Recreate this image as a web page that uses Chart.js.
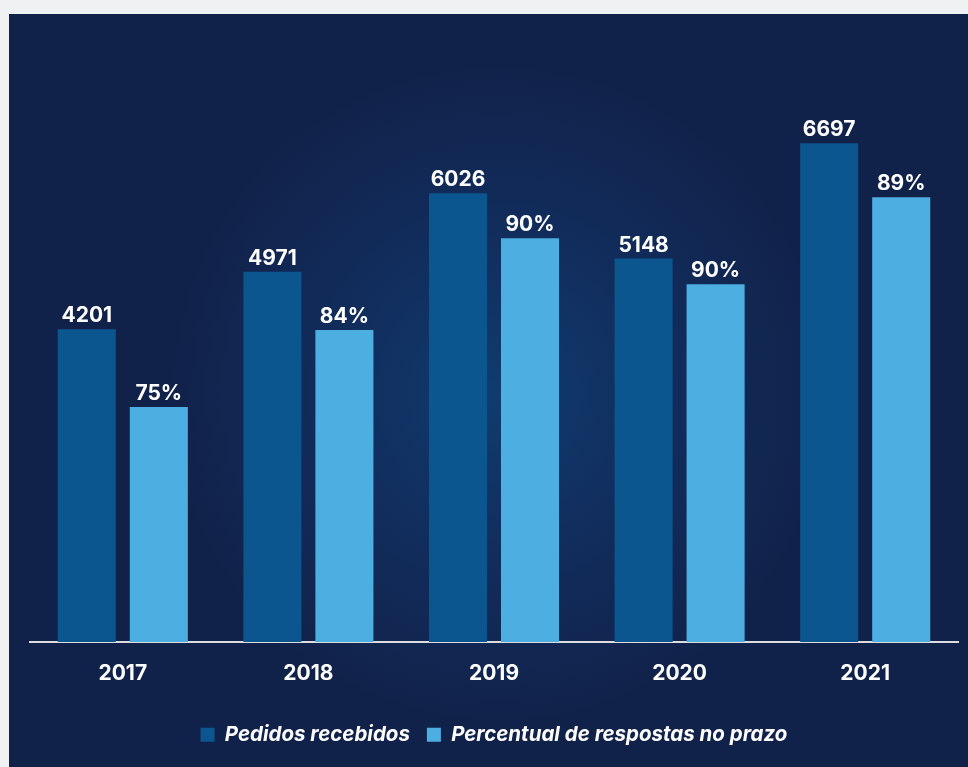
<!DOCTYPE html>
<html lang="pt-BR">
<head>
<meta charset="utf-8">
<title>Pedidos recebidos</title>
<script src="https://cdn.jsdelivr.net/npm/chart.js@4"></script>
<style>
  html, body {
    margin: 0;
    padding: 0;
    background: #f0f1f3;
  }
  #painel {
    position: absolute;
    left: 9px;
    top: 14px;
    width: 959px;
    height: 753px;
    background: radial-gradient(circle at 490px 380px, #0f3c6f 0px, #112e5e 150px, #11224a 330px, #11224a 100%);
  }
  #painel canvas {
    display: block;
  }
</style>
</head>
<body>
<div id="painel">
  <canvas id="grafico" width="959" height="753"></canvas>
</div>
<script>
// dados
const anos = ["2017", "2018", "2019", "2020", "2021"];
const pedidosRecebidos = [4201, 4971, 6026, 5148, 6697];
// altura das barras claras = respostas no prazo (estimado da figura)
const respostasNoPrazo = [3154, 4188, 5422, 4805, 5972];
const percentualNoPrazo = [75, 84, 90, 90, 89];

const corEscura = "#0b568f";
const corClara = "#4daee2";
const fonte = "Inter, 'Open Sans', sans-serif";

// rótulos em cima das barras
const rotulosBarras = {
  id: "rotulosBarras",
  afterDatasetsDraw(chart) {
    const { ctx } = chart;
    ctx.save();
    ctx.fillStyle = "#ffffff";
    ctx.font = "700 21px " + fonte;
    ctx.textAlign = "center";
    ctx.textBaseline = "alphabetic";
    chart.data.datasets.forEach((ds, i) => {
      const meta = chart.getDatasetMeta(i);
      meta.data.forEach((bar, j) => {
        const texto =
          i === 0 ? String(pedidosRecebidos[j]) : percentualNoPrazo[j] + "%";
        ctx.fillText(texto, bar.x, bar.y - 7);
      });
    });
    ctx.restore();
  },
};

new Chart(document.getElementById("grafico"), {
  type: "bar",
  data: {
    labels: anos,
    datasets: [
      {
        label: "Pedidos recebidos",
        data: pedidosRecebidos,
        backgroundColor: corEscura,
        categoryPercentage: 0.776,
        barPercentage: 0.806,
      },
      {
        label: "Percentual de respostas no prazo",
        data: respostasNoPrazo,
        backgroundColor: corClara,
        categoryPercentage: 0.776,
        barPercentage: 0.806,
      },
    ],
  },
  options: {
    responsive: false,
    animation: false,
    layout: {
      padding: { left: 21, right: 10, top: 62, bottom: 12 },
    },
    scales: {
      y: {
        display: false,
        min: 0,
        max: 7600,
      },
      x: {
        grid: { display: false },
        border: { display: true, color: "#dcdde0", width: 2 },
        ticks: {
          color: "#ffffff",
          padding: 11,
          font: { family: fonte, size: 21, weight: "700" },
        },
        afterFit(scale) {
          scale.height = 65.5;
        },
      },
    },
    plugins: {
      legend: {
        position: "bottom",
        labels: {
          color: "#ffffff",
          boxWidth: 14,
          boxHeight: 14,
          padding: 17,
          font: { family: fonte, size: 20.5, weight: "bold", style: "italic" },
        },
      },
      tooltip: { enabled: false },
    },
  },
  plugins: [rotulosBarras],
});
</script>
</body>
</html>
